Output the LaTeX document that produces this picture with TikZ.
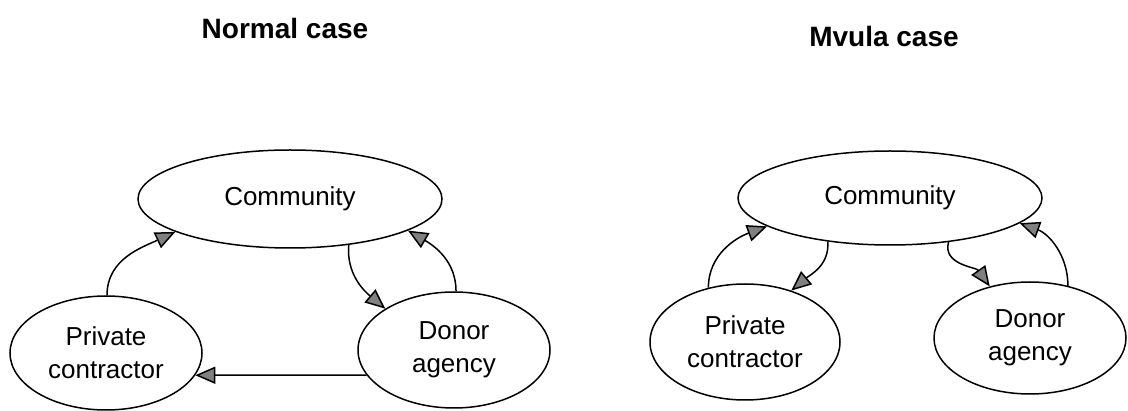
\documentclass[tikz,border=0pt]{standalone}
\usepackage{fontspec}
\setmainfont{Liberation Sans}
\usetikzlibrary{shapes.geometric,arrows.meta}
\begin{document}
\begin{tikzpicture}[x=1pt,y=1pt,
  party/.style={draw, ellipse, line width=1.5pt, inner sep=0pt,
    font=\fontsize{26}{33}\selectfont, align=center},
  flow/.style={line width=1.5pt,
    -{Triangle[length=20pt,width=17pt,fill=black!50]}},
  heading/.style={font=\fontsize{28}{34}\selectfont\bfseries}]
\useasboundingbox (0,0) rectangle (1128,-411);

% ---- left panel: normal case ----
\node[heading] (tl) at (285,-28) {Normal case};
\node[party, minimum width=304pt, minimum height=98pt] (comL) at (290,-199) {Community};
\node[party, minimum width=192pt, minimum height=114pt] (pcL) at (106,-353) {Private\\contractor};
\node[party, minimum width=192pt, minimum height=116pt] (daL) at (454,-350) {Donor\\agency};

\draw[flow] (pcL.89) to[out=90, in=205] (comL.196);
\draw[flow] (daL.88) to[out=90, in=-30] (comL.345);
\draw[flow] (comL.322) to[out=-95, in=140] (daL.149);
\draw[flow] (daL.196) -- (pcL.346);

% ---- right panel: Mvula case ----
\node[heading] (tr) at (884,-36) {Mvula case};
\node[party, minimum width=304pt, minimum height=94pt] (comR) at (890,-198) {Community};
\node[party, minimum width=190pt, minimum height=116pt] (pcR) at (745,-342) {Private\\contractor};
\node[party, minimum width=192pt, minimum height=112pt] (daR) at (1030,-338) {Donor\\agency};

\draw[flow] (pcR.124) to[out=90, in=200] (comR.193);
\draw[flow] (comR.215) to[out=-85, in=40] (pcR.48);
\draw[flow] (comR.323) to[out=-105, in=125] (daR.128);
\draw[flow] (daR.54) to[out=90, in=-20] (comR.349);
\end{tikzpicture}
\end{document}
